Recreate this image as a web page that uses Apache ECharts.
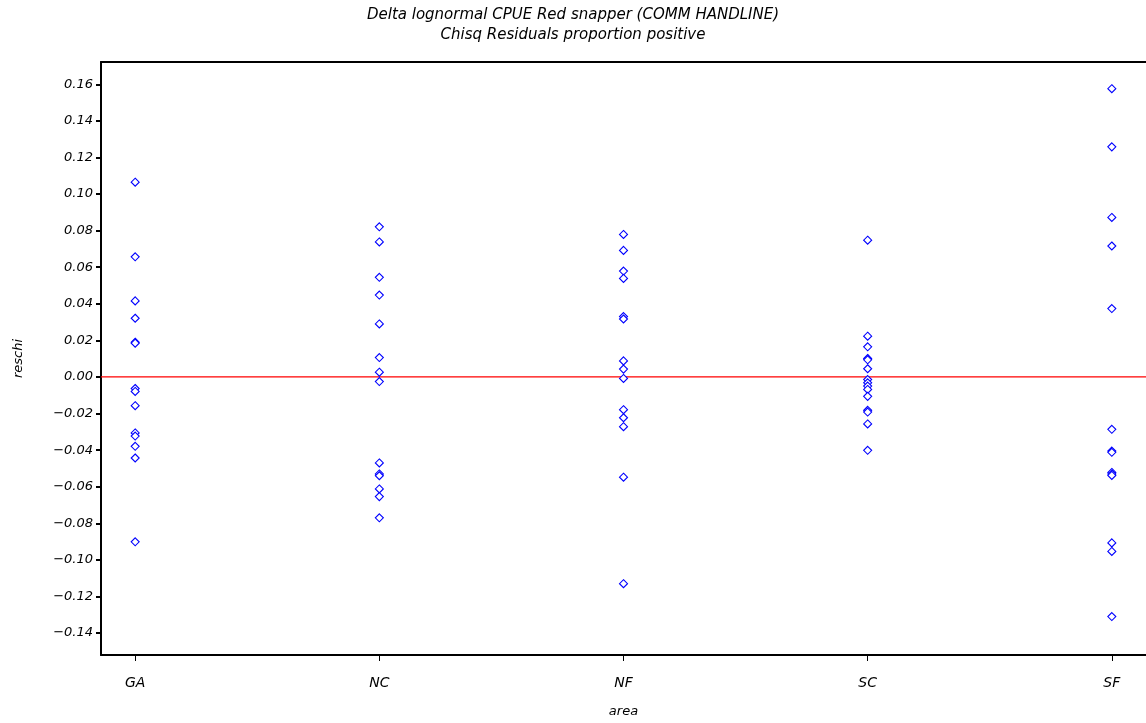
<!DOCTYPE html>
<html>
<head>
<meta charset="utf-8">
<script src="https://cdn.jsdelivr.net/npm/echarts@6/dist/echarts.min.js"></script>
<style>
html,body{margin:0;padding:0;background:#fff;}
#chart{width:1146px;height:723px;}
</style>
</head>
<body>
<div id="chart"></div>
<script>
const categories = ['GA', 'NC', 'NF', 'SC', 'SF'];
const GA = [0.1065, 0.0657, 0.0416, 0.0321, 0.0190, 0.0185, -0.0063, -0.0079, -0.0157, -0.0306, -0.0323, -0.0379, -0.0443, -0.0901];
const NC = [0.0821, 0.0738, 0.0545, 0.0448, 0.0290, 0.0106, 0.0026, -0.0025, -0.0470, -0.0530, -0.0540, -0.0612, -0.0654, -0.0770];
const NF = [0.0779, 0.0692, 0.0579, 0.0539, 0.0330, 0.0317, 0.0088, 0.0043, -0.0008, -0.0179, -0.0223, -0.0272, -0.0548, -0.1130];
const SC = [0.0748, 0.0223, 0.0165, 0.0101, 0.0094, 0.0045, -0.0014, -0.0032, -0.0050, -0.0068, -0.0106, -0.0182, -0.0192, -0.0257, -0.0401];
const SF = [0.1576, 0.1258, 0.0872, 0.0716, 0.0374, -0.0286, -0.0405, -0.0412, -0.0522, -0.0530, -0.0538, -0.0907, -0.0954, -0.1310];
const yTicks = [-0.14, -0.12, -0.10, -0.08, -0.06, -0.04, -0.02, 0.00, 0.02, 0.04, 0.06, 0.08, 0.10, 0.12, 0.14, 0.16];
const titleLines = ['Delta lognormal CPUE Red snapper (COMM HANDLINE)', 'Chisq Residuals proportion positive'];
const referenceValue = 0;

const groups = [GA, NC, NF, SC, SF];
const xMin = -0.14, xMax = groups.length - 1 + 0.14;

const FONT = '"DejaVu Sans", "Liberation Sans", Arial, sans-serif';
const scatterSeries = groups.map((arr, i) => ({
  type: 'scatter',
  name: categories[i],
  xAxisIndex: 0,
  data: arr.map(v => [i, v]),
  symbol: 'diamond',
  symbolSize: 8,
  silent: true,
  color: '#0000ff',
  emphasis: {disabled: true},
  itemStyle: {color: '#ffffff', borderColor: '#0000ff', borderWidth: 1.1, opacity: 1},
  z: 3
}));

const chart = echarts.init(document.getElementById('chart'), null, {renderer: 'canvas'});
chart.setOption({
  animation: false,
  backgroundColor: '#ffffff',
  tooltip: {show: false},
  title: {
    text: titleLines.join('\n'),
    left: 'center',
    top: 0,
    textStyle: {fontFamily: FONT, fontStyle: 'italic', fontWeight: 'normal', fontSize: 15, color: '#000', lineHeight: 20}
  },
  grid: {left: 101, right: 0, top: 62, bottom: 67, containLabel: false},
  xAxis: [{
    type: 'value',
    min: xMin,
    max: xMax,
    name: 'area',
    nameLocation: 'middle',
    nameGap: 50,
    nameTextStyle: {fontFamily: FONT, fontStyle: 'italic', fontSize: 13, color: '#000'},
    axisLine: {show: true, onZero: false, lineStyle: {color: '#000', width: 2}},
    axisTick: {show: true, length: 6, customValues: [0, 1, 2, 3, 4], lineStyle: {color: '#000', width: 1}},
    axisLabel: {
      customValues: [0, 1, 2, 3, 4],
      margin: 21,
      fontFamily: FONT, fontStyle: 'italic', fontSize: 14, color: '#000',
      formatter: v => categories[Math.round(v)] || ''
    },
    splitLine: {show: false}
  }, {
    type: 'value',
    position: 'top',
    min: xMin,
    max: xMax,
    axisLine: {show: true, onZero: false, lineStyle: {color: '#000', width: 2}},
    axisTick: {show: false},
    axisLabel: {show: false},
    splitLine: {show: false}
  }],
  yAxis: {
    type: 'value',
    min: -0.152,
    max: 0.1722,
    name: 'reschi',
    nameLocation: 'middle',
    nameRotate: 90,
    nameGap: 76,
    nameTextStyle: {fontFamily: FONT, fontStyle: 'italic', fontSize: 13, color: '#000'},
    axisLine: {show: true, onZero: false, lineStyle: {color: '#000', width: 2}},
    axisTick: {show: true, length: 5, customValues: yTicks, lineStyle: {color: '#000', width: 2}},
    axisLabel: {
      customValues: yTicks,
      margin: 8,
      fontFamily: FONT, fontStyle: 'italic', fontSize: 13, color: '#000',
      formatter: v => (v < -1e-9 ? '\u2212' : '') + Math.abs(v).toFixed(2)
    },
    splitLine: {show: false}
  },
  series: [{
    type: 'line',
    name: 'zero',
    xAxisIndex: 0,
    data: [[xMin, referenceValue], [xMax, referenceValue]],
    symbol: 'none',
    silent: true,
    color: '#ff0000',
    lineStyle: {color: '#ff0000', width: 1.2, type: 'solid', opacity: 1},
    emphasis: {disabled: true},
    z: 2
  }].concat(scatterSeries)
});
</script>
</body>
</html>
